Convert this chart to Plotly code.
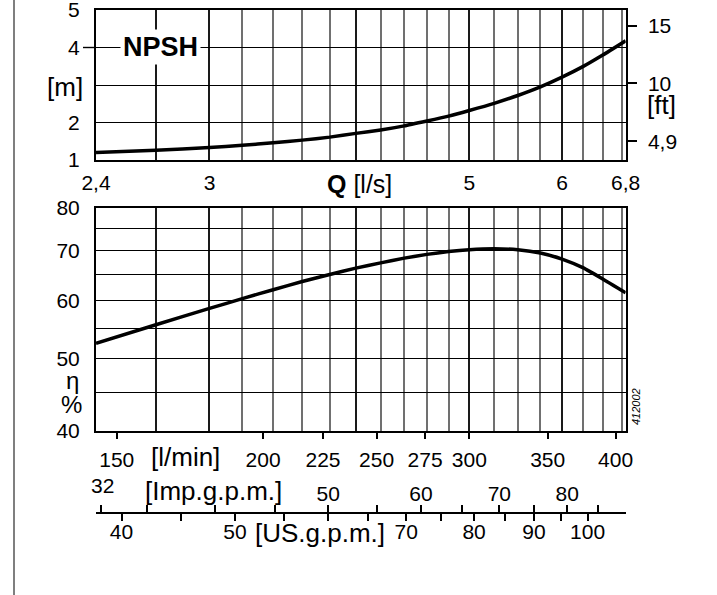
import math
import plotly.graph_objects as go

W, H = 717, 595

# ---------------- data ----------------
q_ls = [2.4, 2.7, 3.0, 3.2, 3.4, 3.6, 3.8, 4.0, 4.2, 4.4, 4.6, 4.8,
        5.0, 5.25, 5.5, 5.75, 6.0, 6.25, 6.5, 6.8]
npsh_m = [1.20, 1.26, 1.33, 1.39, 1.46, 1.53, 1.61, 1.71, 1.80, 1.91, 2.04, 2.17,
          2.32, 2.51, 2.72, 2.95, 3.21, 3.49, 3.80, 4.18]
eta_pct = [52.5, 55.6, 58.5, 60.3, 62.0, 63.6, 65.0, 66.3, 67.4, 68.4, 69.2, 69.8,
           70.2, 70.4, 70.2, 69.5, 68.2, 66.4, 64.1, 61.4]

q_major = [2.4, 2.7, 3, 4, 5, 6, 6.8]
q_major_text = ["2,4", "", "3", "", "5", "6", "6,8"]
q_minor = [3.2, 3.4, 3.6, 3.8, 4.2, 4.4, 4.6, 4.8, 5.25, 5.5, 5.75, 6.25, 6.5, 6.75]

npsh_ticks = [1, 2, 3, 4, 5]
npsh_text = ["1", "2", "", "4", "5"]
ft_ticks = [4.9, 10, 15]
ft_text = ["4,9", "10", "15"]

eta_ticks = [40, 45, 50, 55, 60, 65, 70, 75, 80]
eta_text = ["40", "", "50", "", "60", "", "70", "", "80"]

lpm_ticks = [150, 200, 225, 250, 275, 300, 350, 400]
imp_ticks = [32, 35, 40, 45, 50, 55, 60, 65, 70, 75, 80, 85]
imp_text = ["", "", "", "", "50", "", "60", "", "70", "", "80", ""]
us_ticks = [40, 45, 50, 55, 60, 65, 70, 75, 80, 85, 90, 95, 100]
us_text = ["40", "", "50", "", "", "", "70", "", "80", "", "90", "", "100"]

L_PER_IMP_GAL = 4.54609
L_PER_US_GAL = 3.78541
M_PER_FT = 0.3048

# ---------------- geometry helpers ----------------
def px(x):
    return x / W

def py(y):
    return 1 - y / H

FONT = "Liberation Sans, Arial, sans-serif"
xdom = [px(96), px(625.7)]
top_dom = [py(160), py(10)]
bot_dom = [py(430.7), py(207.7)]
qrange = [math.log10(2.4), math.log10(6.8)]

fig = go.Figure()
curve_line = dict(color="black", width=3.5, shape="spline", smoothing=0.5)
fig.add_trace(go.Scatter(x=q_ls, y=npsh_m, mode="lines", xaxis="x", yaxis="y",
                         line=curve_line, showlegend=False, hoverinfo="skip"))
fig.add_trace(go.Scatter(x=q_ls, y=eta_pct, mode="lines", xaxis="x2", yaxis="y3",
                         line=curve_line, showlegend=False, hoverinfo="skip"))
# empty traces to bind the auxiliary axes
for xa, ya in [("x", "y2"), ("x3", "y3"), ("x4", "y3"), ("x5", "y3")]:
    fig.add_trace(go.Scatter(x=[], y=[], xaxis=xa, yaxis=ya, showlegend=False, hoverinfo="skip"))

grid_common = dict(
    type="log", range=qrange, domain=xdom, automargin=False,
    tickmode="array", tickvals=q_major,
    showgrid=True, gridcolor="#1a1a1a", gridwidth=1.6,
    minor=dict(tickmode="array", tickvals=q_minor, showgrid=True,
               gridcolor="#707070", gridwidth=1.5, ticks=""),
    showline=True, mirror=True, linecolor="black", linewidth=2,
    ticks="", zeroline=False,
)

fig.update_layout(
    width=W, height=H, autosize=False,
    margin=dict(l=0, r=0, t=0, b=0, pad=0),
    paper_bgcolor="white", plot_bgcolor="white",
    font=dict(family=FONT, size=21, color="black"),
    xaxis=dict(**grid_common, anchor="y", ticktext=q_major_text,
               tickfont=dict(size=21), ticklabelstandoff=3),
    yaxis=dict(domain=top_dom, range=[1, 5], anchor="x", automargin=False,
               tickmode="array", tickvals=npsh_ticks, ticktext=npsh_text,
               showgrid=True, gridcolor="black", gridwidth=1.4,
               showline=True, mirror=True, linecolor="black", linewidth=2,
               ticks="", zeroline=False, ticklabelstandoff=10,
               ticklabeloverflow="allow"),
    yaxis2=dict(overlaying="y", side="right", anchor="x", automargin=False,
                range=[1 / M_PER_FT, 5 / M_PER_FT],
                tickmode="array", tickvals=ft_ticks, ticktext=ft_text,
                ticks="outside", ticklen=10, tickwidth=1.5, tickcolor="black",
                showgrid=False, showline=False, zeroline=False, ticklabelstandoff=7),
    xaxis2=dict(**grid_common, anchor="y3", showticklabels=False),
    yaxis3=dict(domain=bot_dom, type="log", range=[math.log10(40), math.log10(80)],
                anchor="x2", automargin=False,
                tickmode="array", tickvals=eta_ticks, ticktext=eta_text,
                showgrid=True, gridcolor="black", gridwidth=1.4,
                showline=True, mirror=True, linecolor="black", linewidth=2,
                ticks="", zeroline=False, ticklabelstandoff=10),
    xaxis3=dict(overlaying="x2", anchor="y3", side="bottom", type="log", range=qrange,
                automargin=False,
                tickmode="array", tickvals=[v / 60 for v in lpm_ticks],
                ticktext=[str(v) for v in lpm_ticks],
                ticks="outside", ticklen=7, tickwidth=2, tickcolor="black",
                showgrid=False, showline=False, zeroline=False, ticklabelstandoff=3),
    xaxis4=dict(overlaying="x2", anchor="free", position=py(512.7), side="top",
                type="log", range=qrange, domain=xdom, automargin=False,
                tickmode="array", tickvals=[v * L_PER_IMP_GAL / 60 for v in imp_ticks],
                ticktext=imp_text,
                ticks="outside", ticklen=7, tickwidth=1.5, tickcolor="black",
                showline=True, linecolor="black", linewidth=1.5,
                showgrid=False, zeroline=False, ticklabelstandoff=-4),
    xaxis5=dict(overlaying="x2", anchor="free", position=py(512.7), side="bottom",
                type="log", range=qrange, domain=xdom, automargin=False,
                tickmode="array", tickvals=[v * L_PER_US_GAL / 60 for v in us_ticks],
                ticktext=us_text,
                ticks="outside", ticklen=7, tickwidth=1.5, tickcolor="black",
                showline=False, showgrid=False, zeroline=False, ticklabelstandoff=-7),
)

def ann(text, x, y, size=26, xanchor="center", yanchor="middle", **kw):
    fig.add_annotation(text=text, x=px(x), y=py(y), xref="paper", yref="paper",
                       showarrow=False, xanchor=xanchor, yanchor=yanchor,
                       font=dict(family=FONT, size=size, color="black"), **kw)

ann("<b>NPSH</b>", 160, 47.5, size=27, bgcolor="white", borderpad=2)
ann("[m]", 85, 87, size=26, xanchor="right")
ann("[ft]", 645, 105, size=26, xanchor="left")
ann("<b>Q</b> [l/s]", 359, 184, size=25)
ann("η", 72.5, 381, size=24)
ann("%", 71.5, 404, size=24)
ann("[l/min]", 185, 457, size=26)
ann("32", 102, 485, size=21)
ann("[Imp.g.p.m.]", 213.5, 491.5, size=26)
ann("[US.g.p.m.]", 320, 533, size=26)
ann("<i>412002</i>", 636, 407, size=11, textangle=-90)

# page edge line and the tick at NPSH = 4
fig.add_shape(type="line", xref="paper", yref="paper", x0=px(14), x1=px(14), y0=0, y1=1,
              line=dict(color="#555555", width=1.5))
fig.add_shape(type="line", xref="paper", yref="y", x0=px(83), x1=px(96), y0=4, y1=4,
              line=dict(color="black", width=1.4))

fig.write_html("out.html", config={"displayModeBar": False},
               post_script="document.body.style.margin='0';")
